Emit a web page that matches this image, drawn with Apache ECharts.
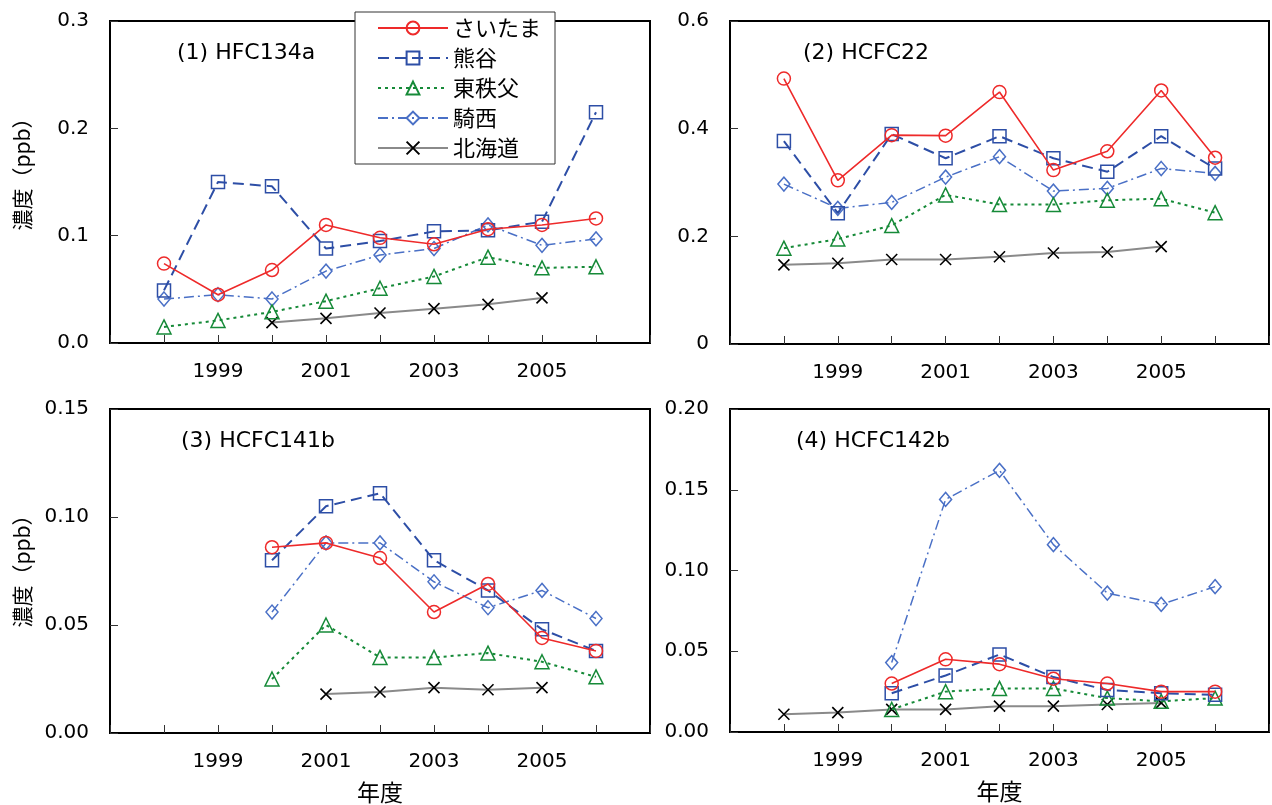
<!DOCTYPE html>
<html>
<head>
<meta charset="utf-8">
<script src="https://cdn.jsdelivr.net/npm/echarts@6/dist/echarts.min.js"></script>
<style>
  html, body { margin: 0; padding: 0; background: #fff; }
  #chart { width: 1272px; height: 805px; }
</style>
</head>
<body>
<div id="chart"></div>
<script>
// Fiscal years on the x axis
const years = [1998, 1999, 2000, 2001, 2002, 2003, 2004, 2005, 2006];
const yearLabels = [1999, 2001, 2003, 2005];
const stations = ['さいたま', '熊谷', '東秩父', '騎西', '北海道'];
const panelTitles = ['(1) HFC134a', '(2) HCFC22', '(3) HCFC141b', '(4) HCFC142b'];
const yName = '濃度（ppb）';
const xName = '年度';

// (1) HFC134a, ppb
const hfc134aSaitama   = [0.074, 0.045, 0.068, 0.110, 0.098, 0.092, 0.106, 0.110, 0.116];
const hfc134aKumagaya  = [0.049, 0.150, 0.146, 0.088, 0.095, 0.104, 0.105, 0.113, 0.215];
const hfc134aHigashichichibu = [0.015, 0.021, 0.029, 0.039, 0.051, 0.062, 0.080, 0.070, 0.071];
const hfc134aKisai     = [0.041, 0.045, 0.041, 0.067, 0.082, 0.088, 0.110, 0.091, 0.097];
const hfc134aHokkaido  = [null, null, 0.019, 0.023, 0.028, 0.032, 0.036, 0.042, null];

// (2) HCFC22, ppb
const hcfc22Saitama   = [0.493, 0.304, 0.388, 0.387, 0.468, 0.323, 0.358, 0.471, 0.346];
const hcfc22Kumagaya  = [0.377, 0.243, 0.390, 0.345, 0.386, 0.345, 0.320, 0.386, 0.326];
const hcfc22Higashichichibu = [0.178, 0.195, 0.220, 0.277, 0.259, 0.259, 0.267, 0.270, 0.244];
const hcfc22Kisai     = [0.297, 0.252, 0.263, 0.310, 0.348, 0.284, 0.289, 0.326, 0.317];
const hcfc22Hokkaido  = [0.147, 0.150, 0.157, 0.157, 0.162, 0.169, 0.171, 0.181, null];

// (3) HCFC141b, ppb
const hcfc141bSaitama   = [null, null, 0.086, 0.088, 0.081, 0.056, 0.069, 0.044, 0.038];
const hcfc141bKumagaya  = [null, null, 0.080, 0.105, 0.111, 0.080, 0.066, 0.048, 0.038];
const hcfc141bHigashichichibu = [null, null, 0.025, 0.050, 0.035, 0.035, 0.037, 0.033, 0.026];
const hcfc141bKisai     = [null, null, 0.056, 0.088, 0.088, 0.070, 0.058, 0.066, 0.053];
const hcfc141bHokkaido  = [null, null, null, 0.018, 0.019, 0.021, 0.020, 0.021, null];

// (4) HCFC142b, ppb
const hcfc142bSaitama   = [null, null, 0.030, 0.045, 0.042, 0.033, 0.030, 0.025, 0.025];
const hcfc142bKumagaya  = [null, null, 0.024, 0.035, 0.048, 0.034, 0.026, 0.024, 0.023];
const hcfc142bHigashichichibu = [null, null, 0.014, 0.025, 0.027, 0.027, 0.021, 0.019, 0.021];
const hcfc142bKisai     = [null, null, 0.043, 0.144, 0.162, 0.116, 0.086, 0.079, 0.090];
const hcfc142bHokkaido  = [0.011, 0.012, 0.014, 0.014, 0.016, 0.016, 0.017, 0.018, null];

// y-axis ranges per panel
const yMax = [0.3, 0.6, 0.15, 0.20];
const yStep = [0.1, 0.2, 0.05, 0.05];
const yDecimals = [1, 1, 2, 2];

const panelSeries = [
  [hfc134aSaitama, hfc134aKumagaya, hfc134aHigashichichibu, hfc134aKisai, hfc134aHokkaido],
  [hcfc22Saitama, hcfc22Kumagaya, hcfc22Higashichichibu, hcfc22Kisai, hcfc22Hokkaido],
  [hcfc141bSaitama, hcfc141bKumagaya, hcfc141bHigashichichibu, hcfc141bKisai, hcfc141bHokkaido],
  [hcfc142bSaitama, hcfc142bKumagaya, hcfc142bHigashichichibu, hcfc142bKisai, hcfc142bHokkaido]
];

const NUM_FONT = '"DejaVu Sans", "Noto Sans CJK JP", sans-serif';
const JP_FONT = '"Noto Sans CJK JP", "DejaVu Sans", sans-serif';
const CLEAR = 'rgba(0,0,0,0)';

// Marker and line look for each station
const stationStyles = [
  { symbol: 'circle', symbolSize: 13, color: '#ee2a2a', line: { width: 1.6, type: 'solid' } },
  { symbol: 'rect', symbolSize: 13, color: '#2d4ea6', line: { width: 2, type: [11, 6] } },
  { symbol: 'triangle', symbolSize: 14, color: '#168a38', line: { width: 2, type: [3, 4] } },
  { symbol: 'diamond', symbolSize: [12, 14], color: '#4a70c6', line: { width: 1.5, type: [10, 4, 2, 4] } },
  { symbol: 'path://M0,0L10,10M10,0L0,10', symbolSize: 11, color: '#000', line: { width: 2, type: 'solid', color: '#8a8a8a' } }
];

const grids = [
  { left: 110, top: 21, width: 540, height: 322 },
  { left: 730, top: 21, width: 539, height: 323 },
  { left: 110, top: 409, width: 540, height: 324 },
  { left: 730, top: 409, width: 539, height: 323 }
];

const titlePos = [
  { left: 177, top: 42 },
  { left: 803, top: 42 },
  { left: 181, top: 430 },
  { left: 796, top: 430 }
];

// Vertical y-axis captions beside the left-hand panels
const yNameCenters = [[22, 169], [22, 566]];

const option = {
  backgroundColor: '#fff',
  animation: false,
  title: panelTitles.map((t, i) => ({
    text: t,
    left: titlePos[i].left,
    top: titlePos[i].top,
    padding: 0,
    textStyle: { fontFamily: NUM_FONT, fontSize: 22, fontWeight: 'normal', color: '#000' }
  })),
  graphic: yNameCenters.map(c => ({
    type: 'text',
    x: c[0],
    y: c[1],
    rotation: Math.PI / 2,
    style: {
      text: yName,
      fontFamily: JP_FONT,
      fontSize: 21,
      fill: '#000',
      align: 'center',
      verticalAlign: 'middle'
    }
  })),
  legend: {
    data: stations,
    orient: 'vertical',
    left: 355,
    top: 12,
    padding: [4, 14, 4, 22],
    itemWidth: 70,
    itemHeight: 16,
    itemGap: 6,
    backgroundColor: '#fff',
    borderColor: '#333',
    borderWidth: 1,
    borderRadius: 0,
    z: 10,
    textStyle: { fontFamily: JP_FONT, fontSize: 22, lineHeight: 24, color: '#000' }
  },
  grid: grids.map(g => Object.assign({
    show: true, borderColor: '#000', borderWidth: 2, backgroundColor: CLEAR, containLabel: false
  }, g)),
  xAxis: grids.map((g, i) => ({
    type: 'value',
    gridIndex: i,
    min: 1997,
    max: 2007,
    interval: 1,
    name: i >= 2 ? xName : '',
    nameLocation: 'middle',
    nameGap: 48,
    nameTextStyle: { fontFamily: JP_FONT, fontSize: 23, color: '#000' },
    axisLine: { show: true, lineStyle: { color: '#000', width: 2 } },
    axisTick: { show: true, inside: true, length: 8, lineStyle: { color: '#333', width: 1 } },
    axisLabel: {
      margin: 19,
      fontFamily: NUM_FONT,
      fontSize: 20,
      color: '#000',
      showMinLabel: true,
      showMaxLabel: true,
      formatter: v => (yearLabels.indexOf(Math.round(v)) >= 0 ? String(Math.round(v)) : '')
    },
    splitLine: { show: false }
  })),
  yAxis: grids.map((g, i) => ({
    type: 'value',
    gridIndex: i,
    min: 0,
    max: yMax[i],
    interval: yStep[i],
    axisLine: { show: true, lineStyle: { color: '#000', width: 2 } },
    axisTick: { show: true, inside: true, length: 8, lineStyle: { color: '#333', width: 1 } },
    axisLabel: {
      margin: 21,
      fontFamily: NUM_FONT,
      fontSize: 20,
      color: '#000',
      formatter: v => (i === 1 && v === 0) ? '0' : v.toFixed(yDecimals[i])
    },
    splitLine: { show: false }
  })),
  series: []
};

panelSeries.forEach((list, p) => {
  list.forEach((values, s) => {
    const st = stationStyles[s];
    option.series.push({
      type: 'line',
      name: stations[s],
      xAxisIndex: p,
      yAxisIndex: p,
      data: years.map((y, k) => [y, values[k]]),
      connectNulls: false,
      symbol: st.symbol,
      symbolSize: st.symbolSize,
      showSymbol: true,
      z: 5 - s,
      lineStyle: { color: st.line.color || st.color, width: st.line.width, type: st.line.type },
      itemStyle: { color: CLEAR, borderColor: st.color, borderWidth: s === 4 ? 1.6 : 1.5 },
      emphasis: { disabled: true }
    });
  });
});

const chart = echarts.init(document.getElementById('chart'), null, { renderer: 'canvas' });
chart.setOption(option);
</script>
</body>
</html>
